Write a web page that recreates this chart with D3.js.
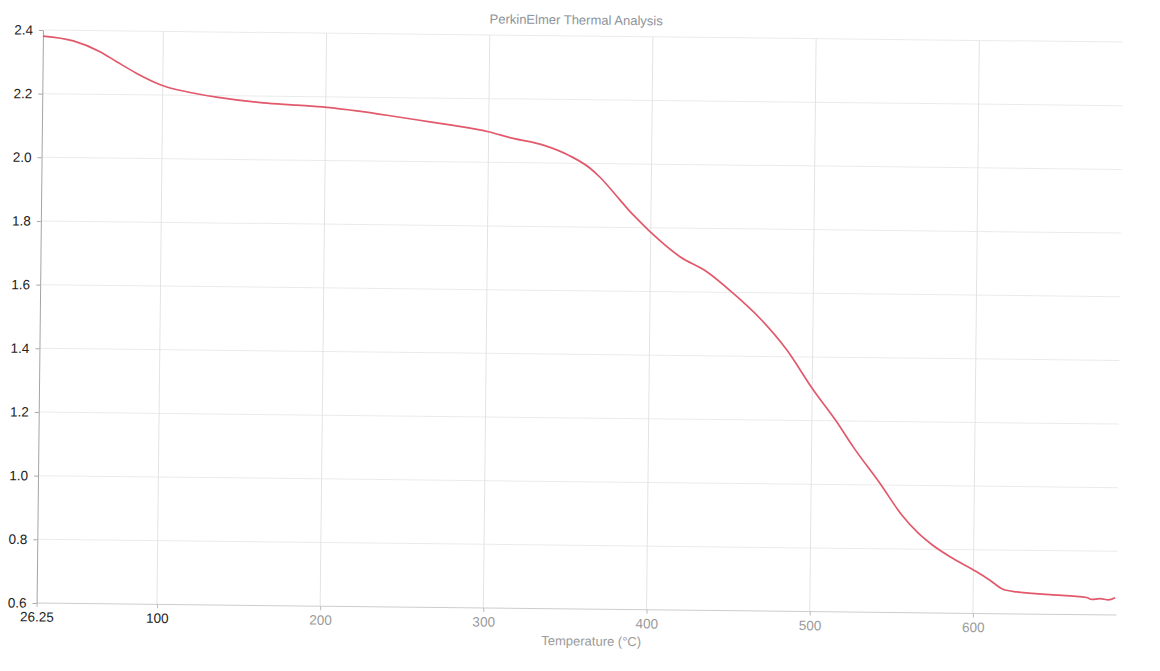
<!DOCTYPE html>
<html>
<head>
<meta charset="utf-8">
<script src="https://cdn.jsdelivr.net/npm/d3@7"></script>
<style>
  html, body { margin: 0; padding: 0; background: #fff; }
  svg { display: block; font-family: "Liberation Sans", Arial, sans-serif; }
</style>
</head>
<body>
<svg id="chart" width="1160" height="671"></svg>
<script>
// ---- data ----
const temperature = [26.25, 44.9, 61.3, 71.6, 84.0, 96.3, 100.3, 114.7, 133.1, 161.7, 182.2, 200.6,
  219.0, 243.6, 264.0, 276.3, 299.8, 315.1, 333.6, 350.0, 362.4, 368.5, 381.0, 387.2, 393.3,
  400.6, 418.1, 434.6, 451.0, 467.6, 484.2, 500.7, 515.2, 525.5, 542.2, 556.0, 566.0, 574.3, 585.6,
  602.0, 610.2, 618.3, 626.7, 647.2, 669.6, 672.7, 677.8, 682.9, 687.0];
const weight = [2.381, 2.367, 2.334, 2.303, 2.267, 2.237, 2.229, 2.211, 2.195, 2.179, 2.173, 2.167,
  2.157, 2.140, 2.125, 2.116, 2.096, 2.076, 2.056, 2.023, 1.985, 1.957, 1.886, 1.850, 1.819,
  1.783, 1.710, 1.664, 1.597, 1.519, 1.421, 1.296, 1.197, 1.119, 1.005, 0.905, 0.850, 0.815, 0.777,
  0.731, 0.705, 0.677, 0.669, 0.662, 0.654, 0.648, 0.651, 0.647, 0.654];
const xTicks = [26.25, 100, 200, 300, 400, 500, 600];
const xTickLabels = ["26.25", "100", "200", "300", "400", "500", "600"];
const yTicks = [0.6, 0.8, 1.0, 1.2, 1.4, 1.6, 1.8, 2.0, 2.2, 2.4];
const yTickLabels = ["0.6", "0.8", "1.0", "1.2", "1.4", "1.6", "1.8", "2.0", "2.2", "2.4"];
const titleText = "PerkinElmer Thermal Analysis";
const xAxisTitle = "Temperature (°C)";

// ---- layout ----
const pLeft = 43, pRight = 1123, pTop = 30, pBottom = 603;
const svg = d3.select("#chart");
// the scanned chart is slightly tilted clockwise
const g = svg.append("g").attr("transform", `rotate(0.64,${pLeft},${pTop})`);

const x = d3.scaleLinear().domain([26.25, 688]).range([pLeft, pRight]);
const y = d3.scaleLinear().domain([0.6, 2.4]).range([pBottom, pTop]);

// horizontal grid
g.append("g").selectAll("line").data(yTicks.filter(d => d !== 0.6)).join("line")
  .attr("x1", pLeft).attr("x2", pRight)
  .attr("y1", d => y(d)).attr("y2", d => y(d))
  .attr("stroke", "#ebebeb").attr("stroke-width", 1);

// vertical grid
g.append("g").selectAll("line").data(xTicks.filter(d => d !== 26.25)).join("line")
  .attr("x1", d => x(d)).attr("x2", d => x(d))
  .attr("y1", pTop).attr("y2", pBottom)
  .attr("stroke", "#e3e3e3").attr("stroke-width", 1);

// x axis
const xAxis = d3.axisBottom(x).tickValues(xTicks)
  .tickFormat((d, i) => xTickLabels[i]).tickSize(4).tickPadding(5).tickSizeOuter(0);
const gx = g.append("g").attr("transform", `translate(0,${pBottom})`).call(xAxis);
gx.select(".domain").attr("stroke", "#cdcdcd").attr("d", `M${pLeft},0H${pRight}`);
gx.selectAll(".tick line").attr("stroke", "#bbb");
gx.selectAll(".tick text")
  .attr("font-size", 13.5)
  .attr("font-family", "Liberation Sans, Arial, sans-serif")
  .attr("fill", (d, i) => i < 2 ? "#222" : "#9a9a9a");

// y axis
const yAxis = d3.axisLeft(y).tickValues(yTicks)
  .tickFormat((d, i) => yTickLabels[i]).tickSize(4).tickPadding(6).tickSizeOuter(0);
const gy = g.append("g").attr("transform", `translate(${pLeft},0)`).call(yAxis);
gy.select(".domain").attr("stroke", "#a4a4a4");
gy.selectAll(".tick line").attr("stroke", "#aaa");
gy.selectAll(".tick text")
  .attr("font-size", 13.5)
  .attr("font-family", "Liberation Sans, Arial, sans-serif")
  .attr("fill", "#222");

// curve
const line = d3.line().x(d => x(d[0])).y(d => y(d[1])).curve(d3.curveMonotoneX);
g.append("path")
  .datum(temperature.map((t, i) => [t, weight[i]]))
  .attr("d", line)
  .attr("fill", "none")
  .attr("stroke", "#e2596c")
  .attr("stroke-width", 1.7)
  .attr("stroke-linejoin", "round");

// titles
g.append("text").attr("x", 576).attr("y", 15)
  .attr("text-anchor", "middle").attr("dominant-baseline", "middle")
  .attr("font-size", 13).attr("fill", "#8e939b").text(titleText);
g.append("text").attr("x", 598).attr("y", 636)
  .attr("text-anchor", "middle").attr("dominant-baseline", "middle")
  .attr("font-size", 13).attr("fill", "#9a9a9a").text(xAxisTitle);
</script>
</body>
</html>
